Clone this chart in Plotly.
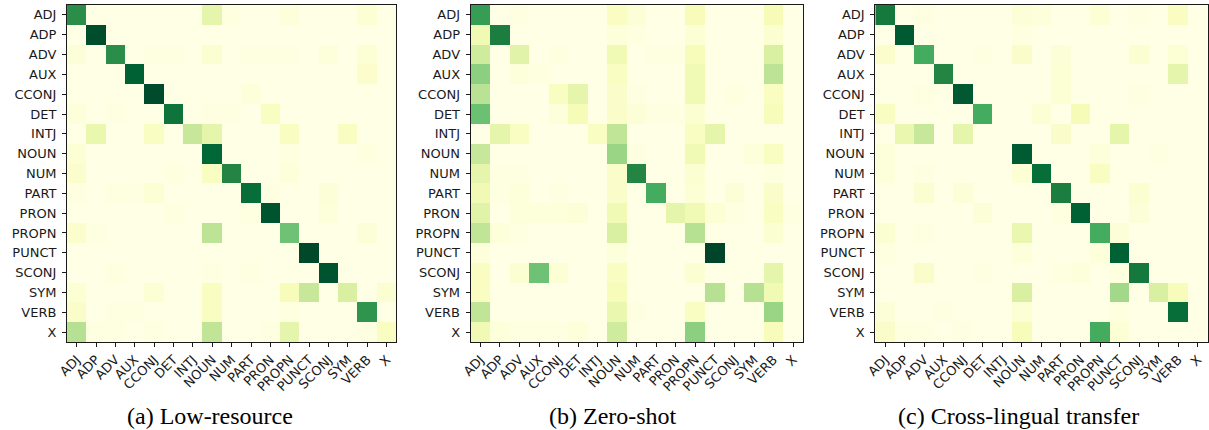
import plotly.graph_objects as go

labels = ["ADJ", "ADP", "ADV", "AUX", "CCONJ", "DET", "INTJ", "NOUN", "NUM",
          "PART", "PRON", "PROPN", "PUNCT", "SCONJ", "SYM", "VERB", "X"]

# (a) Low-resource  (rows: gold, cols: predicted)
low_resource = [
    # ADJ  ADP  ADV  AUX  CCO  DET  INTJ NOUN NUM  PART PRON PROP PUNC SCON SYM  VERB X
    [0.72, 0.00, 0.00, 0.00, 0.00, 0.00, 0.00, 0.20, 0.02, 0.00, 0.00, 0.03, 0.00, 0.00, 0.00, 0.05, 0.00],
    [0.00, 0.97, 0.00, 0.00, 0.00, 0.00, 0.00, 0.00, 0.00, 0.00, 0.00, 0.00, 0.00, 0.00, 0.00, 0.00, 0.00],
    [0.04, 0.00, 0.72, 0.00, 0.01, 0.01, 0.00, 0.06, 0.00, 0.01, 0.01, 0.01, 0.00, 0.03, 0.00, 0.05, 0.00],
    [0.00, 0.00, 0.00, 0.90, 0.00, 0.00, 0.00, 0.00, 0.00, 0.00, 0.00, 0.00, 0.00, 0.00, 0.00, 0.07, 0.00],
    [0.00, 0.00, 0.00, 0.00, 0.98, 0.00, 0.00, 0.00, 0.00, 0.03, 0.00, 0.00, 0.00, 0.00, 0.00, 0.00, 0.00],
    [0.03, 0.00, 0.01, 0.00, 0.00, 0.82, 0.00, 0.01, 0.01, 0.00, 0.10, 0.00, 0.00, 0.00, 0.00, 0.00, 0.00],
    [0.00, 0.18, 0.00, 0.00, 0.10, 0.00, 0.30, 0.20, 0.00, 0.00, 0.00, 0.10, 0.00, 0.00, 0.10, 0.00, 0.00],
    [0.05, 0.00, 0.00, 0.00, 0.00, 0.00, 0.00, 0.88, 0.00, 0.00, 0.00, 0.02, 0.00, 0.00, 0.00, 0.02, 0.00],
    [0.07, 0.00, 0.00, 0.00, 0.00, 0.02, 0.00, 0.10, 0.75, 0.00, 0.00, 0.03, 0.00, 0.00, 0.00, 0.00, 0.00],
    [0.01, 0.00, 0.02, 0.01, 0.05, 0.00, 0.00, 0.00, 0.00, 0.85, 0.01, 0.00, 0.00, 0.04, 0.00, 0.00, 0.00],
    [0.00, 0.00, 0.00, 0.00, 0.00, 0.02, 0.00, 0.00, 0.00, 0.01, 0.95, 0.00, 0.00, 0.03, 0.00, 0.00, 0.00],
    [0.07, 0.01, 0.00, 0.00, 0.00, 0.00, 0.00, 0.33, 0.00, 0.00, 0.00, 0.52, 0.00, 0.00, 0.00, 0.04, 0.00],
    [0.00, 0.00, 0.00, 0.00, 0.00, 0.00, 0.00, 0.00, 0.00, 0.00, 0.00, 0.00, 0.99, 0.00, 0.00, 0.00, 0.00],
    [0.00, 0.00, 0.02, 0.00, 0.00, 0.00, 0.00, 0.01, 0.00, 0.01, 0.00, 0.00, 0.00, 0.95, 0.00, 0.00, 0.00],
    [0.05, 0.00, 0.00, 0.00, 0.05, 0.00, 0.00, 0.10, 0.00, 0.00, 0.00, 0.12, 0.30, 0.00, 0.25, 0.00, 0.06],
    [0.08, 0.00, 0.01, 0.01, 0.00, 0.00, 0.00, 0.10, 0.00, 0.00, 0.00, 0.02, 0.00, 0.00, 0.00, 0.70, 0.00],
    [0.35, 0.01, 0.01, 0.00, 0.01, 0.00, 0.00, 0.32, 0.00, 0.00, 0.01, 0.20, 0.00, 0.00, 0.00, 0.01, 0.10],
]

# (b) Zero-shot
zero_shot = [
    [0.67, 0.00, 0.01, 0.00, 0.00, 0.00, 0.00, 0.10, 0.04, 0.00, 0.00, 0.12, 0.00, 0.00, 0.00, 0.13, 0.00],
    [0.15, 0.78, 0.00, 0.00, 0.00, 0.00, 0.00, 0.03, 0.02, 0.00, 0.00, 0.05, 0.00, 0.00, 0.00, 0.06, 0.00],
    [0.28, 0.00, 0.22, 0.00, 0.02, 0.00, 0.00, 0.15, 0.00, 0.01, 0.01, 0.12, 0.00, 0.00, 0.00, 0.25, 0.00],
    [0.45, 0.00, 0.03, 0.02, 0.00, 0.00, 0.00, 0.10, 0.00, 0.00, 0.00, 0.15, 0.00, 0.00, 0.00, 0.33, 0.00],
    [0.34, 0.00, 0.00, 0.00, 0.10, 0.20, 0.00, 0.08, 0.01, 0.00, 0.00, 0.15, 0.00, 0.02, 0.00, 0.10, 0.00],
    [0.53, 0.00, 0.00, 0.00, 0.03, 0.13, 0.00, 0.08, 0.04, 0.01, 0.01, 0.06, 0.00, 0.00, 0.00, 0.12, 0.00],
    [0.00, 0.20, 0.10, 0.00, 0.00, 0.00, 0.10, 0.32, 0.00, 0.00, 0.00, 0.10, 0.20, 0.00, 0.00, 0.00, 0.00],
    [0.30, 0.00, 0.00, 0.00, 0.00, 0.00, 0.00, 0.42, 0.01, 0.00, 0.00, 0.15, 0.00, 0.00, 0.03, 0.10, 0.00],
    [0.20, 0.01, 0.01, 0.00, 0.00, 0.00, 0.00, 0.08, 0.75, 0.00, 0.00, 0.06, 0.00, 0.00, 0.00, 0.02, 0.00],
    [0.15, 0.01, 0.03, 0.00, 0.01, 0.00, 0.00, 0.08, 0.00, 0.62, 0.00, 0.05, 0.00, 0.04, 0.00, 0.08, 0.00],
    [0.22, 0.00, 0.03, 0.03, 0.03, 0.04, 0.00, 0.15, 0.00, 0.00, 0.20, 0.15, 0.05, 0.01, 0.00, 0.10, 0.01],
    [0.32, 0.03, 0.01, 0.00, 0.00, 0.00, 0.00, 0.25, 0.00, 0.00, 0.00, 0.35, 0.00, 0.00, 0.00, 0.06, 0.00],
    [0.03, 0.00, 0.00, 0.00, 0.00, 0.00, 0.00, 0.03, 0.00, 0.00, 0.00, 0.00, 1.00, 0.00, 0.00, 0.00, 0.00],
    [0.10, 0.00, 0.06, 0.52, 0.05, 0.00, 0.00, 0.10, 0.00, 0.00, 0.00, 0.06, 0.00, 0.00, 0.00, 0.20, 0.00],
    [0.10, 0.00, 0.00, 0.00, 0.00, 0.00, 0.00, 0.12, 0.00, 0.00, 0.00, 0.00, 0.35, 0.00, 0.35, 0.15, 0.00],
    [0.32, 0.00, 0.00, 0.00, 0.00, 0.00, 0.00, 0.18, 0.01, 0.00, 0.00, 0.10, 0.00, 0.00, 0.00, 0.42, 0.00],
    [0.15, 0.03, 0.01, 0.01, 0.01, 0.03, 0.00, 0.28, 0.00, 0.00, 0.00, 0.45, 0.00, 0.00, 0.00, 0.12, 0.00],
]

# (c) Cross-lingual transfer
cross_lingual = [
    [0.80, 0.00, 0.01, 0.00, 0.00, 0.00, 0.00, 0.04, 0.03, 0.00, 0.00, 0.05, 0.00, 0.01, 0.00, 0.10, 0.00],
    [0.00, 0.93, 0.00, 0.00, 0.00, 0.00, 0.00, 0.02, 0.00, 0.00, 0.00, 0.00, 0.00, 0.00, 0.00, 0.00, 0.00],
    [0.07, 0.00, 0.62, 0.00, 0.00, 0.01, 0.00, 0.08, 0.00, 0.04, 0.00, 0.00, 0.00, 0.06, 0.00, 0.05, 0.00],
    [0.00, 0.00, 0.00, 0.75, 0.00, 0.00, 0.00, 0.00, 0.00, 0.05, 0.00, 0.00, 0.00, 0.00, 0.00, 0.20, 0.00],
    [0.00, 0.00, 0.01, 0.00, 0.93, 0.00, 0.00, 0.00, 0.00, 0.05, 0.00, 0.00, 0.00, 0.01, 0.00, 0.00, 0.00],
    [0.10, 0.00, 0.00, 0.00, 0.00, 0.62, 0.00, 0.00, 0.05, 0.00, 0.13, 0.00, 0.00, 0.00, 0.00, 0.00, 0.00],
    [0.00, 0.18, 0.30, 0.00, 0.20, 0.00, 0.00, 0.00, 0.00, 0.08, 0.00, 0.00, 0.20, 0.00, 0.00, 0.00, 0.00],
    [0.03, 0.00, 0.00, 0.00, 0.00, 0.00, 0.00, 0.92, 0.00, 0.00, 0.00, 0.03, 0.00, 0.00, 0.01, 0.00, 0.00],
    [0.03, 0.00, 0.01, 0.00, 0.00, 0.00, 0.00, 0.05, 0.85, 0.00, 0.00, 0.10, 0.00, 0.00, 0.00, 0.00, 0.00],
    [0.00, 0.00, 0.06, 0.00, 0.04, 0.00, 0.00, 0.00, 0.00, 0.78, 0.00, 0.00, 0.00, 0.06, 0.00, 0.00, 0.00],
    [0.00, 0.00, 0.00, 0.00, 0.00, 0.04, 0.00, 0.00, 0.00, 0.02, 0.90, 0.00, 0.00, 0.04, 0.00, 0.00, 0.00],
    [0.06, 0.00, 0.01, 0.00, 0.00, 0.00, 0.00, 0.18, 0.00, 0.00, 0.00, 0.62, 0.04, 0.00, 0.00, 0.00, 0.00],
    [0.02, 0.00, 0.00, 0.00, 0.00, 0.00, 0.00, 0.03, 0.00, 0.00, 0.00, 0.03, 0.90, 0.00, 0.00, 0.00, 0.00],
    [0.00, 0.00, 0.08, 0.00, 0.00, 0.01, 0.00, 0.00, 0.00, 0.02, 0.03, 0.00, 0.02, 0.80, 0.00, 0.00, 0.00],
    [0.00, 0.00, 0.00, 0.00, 0.00, 0.00, 0.00, 0.25, 0.00, 0.00, 0.00, 0.00, 0.40, 0.00, 0.25, 0.12, 0.00],
    [0.04, 0.00, 0.00, 0.01, 0.00, 0.00, 0.00, 0.05, 0.00, 0.00, 0.00, 0.00, 0.02, 0.00, 0.00, 0.85, 0.00],
    [0.08, 0.02, 0.01, 0.00, 0.01, 0.00, 0.00, 0.12, 0.00, 0.00, 0.00, 0.62, 0.05, 0.00, 0.00, 0.00, 0.00],
]

captions = ["(a) Low-resource", "(b) Zero-shot", "(c) Cross-lingual transfer"]
matrices = [low_resource, zero_shot, cross_lingual]

W, H = 1209, 430
# panel pixel extents (left, right)
x_px = [(57.5, 389.5), (464.5, 799.5), (872.5, 1207.5)]
y_px = (5, 342)
caption_x_px = [202, 608, 1017]
caption_y_px = 416

ylgn = [
    [0.0, "rgb(255,255,229)"], [0.125, "rgb(247,252,185)"], [0.25, "rgb(217,240,163)"],
    [0.375, "rgb(173,221,142)"], [0.5, "rgb(120,198,121)"], [0.625, "rgb(65,171,93)"],
    [0.75, "rgb(35,132,67)"], [0.875, "rgb(0,104,55)"], [1.0, "rgb(0,69,41)"],
]

fig = go.Figure()
tick_font = dict(family="DejaVu Sans", size=13, color="#1a1a1a")
for i, z in enumerate(matrices):
    suffix = "" if i == 0 else str(i + 1)
    fig.add_trace(go.Heatmap(
        z=z, x=labels, y=labels, colorscale=ylgn, zmin=0, zmax=1,
        showscale=False, xaxis="x" + suffix, yaxis="y" + suffix,
        hovertemplate="gold=%{y}<br>pred=%{x}<br>%{z}<extra></extra>",
    ))
    x0, x1 = x_px[i]
    xa = dict(
        domain=[x0 / W, x1 / W], anchor="y" + suffix, type="category",
        tickangle=-45, tickfont=tick_font, ticks="outside", ticklen=4,
        tickcolor="#1a1a1a", showline=True, linecolor="#1a1a1a", linewidth=1,
        mirror=True, showgrid=False, zeroline=False, range=[-0.5, 16.5],
        categoryorder="array", categoryarray=labels,
    )
    ya = dict(
        domain=[1 - y_px[1] / H, 1 - y_px[0] / H], anchor="x" + suffix,
        type="category", tickfont=tick_font, ticks="outside", ticklen=4,
        ticklabelstandoff=3,
        tickcolor="#1a1a1a", showline=True, linecolor="#1a1a1a", linewidth=1,
        mirror=True, showgrid=False, zeroline=False, range=[16.5, -0.5],
        categoryorder="array", categoryarray=labels,
    )
    fig.layout["xaxis" + suffix] = xa
    fig.layout["yaxis" + suffix] = ya
    fig.add_annotation(
        text=captions[i], x=caption_x_px[i] / W, y=1 - caption_y_px / H,
        xref="paper", yref="paper", xanchor="center", yanchor="middle",
        showarrow=False, font=dict(family="Liberation Serif", size=24, color="black"),
    )

fig.update_layout(
    width=W, height=H, margin=dict(l=0, r=0, t=0, b=0),
    paper_bgcolor="white", plot_bgcolor="white",
)

fig.write_html("out.html", config={"displayModeBar": False},
               post_script="document.body.style.margin='0px';")
